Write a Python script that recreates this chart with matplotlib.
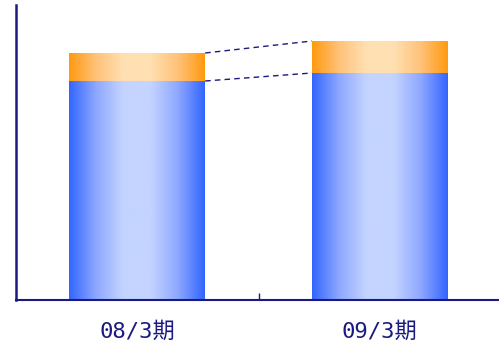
import numpy as np
import matplotlib
matplotlib.use("Agg")
import matplotlib.pyplot as plt
from matplotlib.colors import LinearSegmentedColormap

plt.rcParams['font.family'] = ['DejaVu Sans Mono', 'Noto Sans CJK JP']

categories = ["08/3期", "09/3期"]
base_values = [219, 227]
top_values = [28, 32]

navy = "#1a1a80"

fig = plt.figure(figsize=(4.99, 3.45), dpi=100)
ax = fig.add_axes([16/499, 45/345, 485/499, 295/345])

x = np.arange(len(categories))
width = 0.56
b1 = ax.bar(x, base_values, width=width, color="none", edgecolor="none")
b2 = ax.bar(x, top_values, width=width, bottom=base_values, color="none", edgecolor="none")

blue_cmap = LinearSegmentedColormap.from_list("b", ["#3366ff", "#8fa8ff", "#c4d4ff", "#c4d4ff", "#8fa8ff", "#3366ff"])
orange_cmap = LinearSegmentedColormap.from_list("o", ["#ff9a10", "#ffc27a", "#ffe0b2", "#ffe0b2", "#ffc27a", "#ff9a10"])
grad = np.linspace(0, 1, 256).reshape(1, -1)
for bars, cmap in ((b1, blue_cmap), (b2, orange_cmap)):
    for p in bars:
        x0, y0 = p.get_x(), p.get_y()
        w, h = p.get_width(), p.get_height()
        ax.imshow(grad, cmap=cmap, aspect="auto", extent=(x0, x0 + w, y0, y0 + h),
                  interpolation="bicubic", zorder=2)

# connector dashed lines
for bars in (b1, b2):
    p0, p1 = bars[0], bars[1]
    ax.plot([p0.get_x() + p0.get_width(), p1.get_x()],
            [p0.get_y() + p0.get_height(), p1.get_y() + p1.get_height()],
            linestyle=(0, (4, 3)), color=navy, lw=1.0, zorder=3)

ax.set_xlim(-0.5, 1.5)
ax.set_ylim(0, 295)

for s in ("top", "right"):
    ax.spines[s].set_visible(False)
ax.spines["left"].set_color(navy)
ax.spines["left"].set_linewidth(1.8)
ax.spines["bottom"].set_color(navy)
ax.spines["bottom"].set_linewidth(1.5)

ax.set_yticks([])
ax.set_xticks([0.5])
ax.set_xticklabels([""])
ax.tick_params(axis="x", which="major", direction="in", length=5, color=navy, width=1)
ax.set_xticks(x, minor=True)
ax.set_xticklabels(categories, minor=True)
ax.tick_params(axis="x", which="minor", length=0, pad=15, labelsize=16, labelcolor=navy)

fig.savefig("out.png", dpi=100)
